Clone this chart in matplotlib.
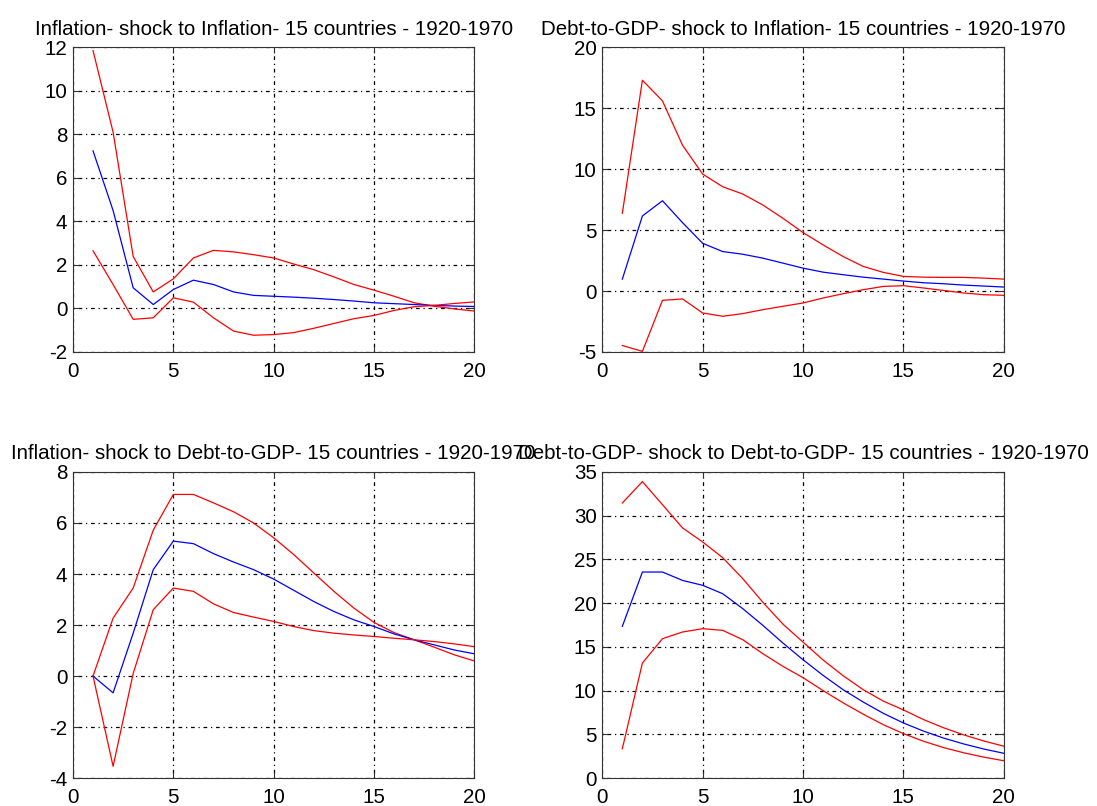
import matplotlib
matplotlib.use("Agg")
import numpy as np
import matplotlib.pyplot as plt

plt.rcParams['font.family'] = ['Liberation Sans', 'DejaVu Sans']
plt.rcParams['axes.unicode_minus'] = False

h = np.arange(1, 21)

# panel 1: Inflation - shock to Inflation
p1_up = [11.85, 8.1, 2.39, 0.76, 1.36, 2.32, 2.67, 2.6, 2.47, 2.32,
         2.04, 1.78, 1.45, 1.1, 0.84, 0.56, 0.26, 0.1, -0.02, -0.12]
p1_mid = [7.24, 4.5, 0.95, 0.18, 0.87, 1.3, 1.1, 0.76, 0.6, 0.56,
          0.52, 0.47, 0.41, 0.34, 0.26, 0.22, 0.18, 0.14, 0.11, 0.09]
p1_lo = [2.65, 1.1, -0.5, -0.43, 0.49, 0.29, -0.43, -1.04, -1.23, -1.2,
         -1.11, -0.91, -0.69, -0.47, -0.32, -0.09, 0.08, 0.14, 0.23, 0.3]

# panel 2: Debt-to-GDP - shock to Inflation
p2_up = [6.38, 17.3, 15.6, 11.96, 9.6, 8.56, 7.96, 7.06, 5.97, 4.8,
         3.79, 2.83, 2.02, 1.53, 1.2, 1.14, 1.12, 1.12, 1.06, 0.98]
p2_mid = [0.98, 6.16, 7.41, 5.61, 3.92, 3.24, 3.02, 2.7, 2.29, 1.88,
          1.55, 1.34, 1.14, 0.98, 0.82, 0.68, 0.6, 0.49, 0.41, 0.33]
p2_lo = [-4.47, -4.95, -0.76, -0.65, -1.8, -2.07, -1.85, -1.53, -1.25, -0.98,
         -0.57, -0.22, 0.11, 0.38, 0.44, 0.25, 0.05, -0.16, -0.3, -0.35]

# panel 3: Inflation - shock to Debt-to-GDP
p3_up = [0.0, 2.27, 3.45, 5.72, 7.12, 7.12, 6.79, 6.44, 6.0, 5.42,
         4.76, 4.04, 3.32, 2.66, 2.1, 1.7, 1.42, 1.13, 0.83, 0.59]
p3_mid = [0.0, -0.66, 1.68, 4.17, 5.29, 5.19, 4.8, 4.47, 4.17, 3.8,
          3.36, 2.92, 2.53, 2.2, 1.94, 1.65, 1.42, 1.22, 1.02, 0.87]
p3_lo = [0.0, -3.54, 0.1, 2.6, 3.45, 3.32, 2.83, 2.49, 2.31, 2.14,
         1.94, 1.78, 1.68, 1.61, 1.55, 1.48, 1.42, 1.35, 1.26, 1.15]

# panel 4: Debt-to-GDP - shock to Debt-to-GDP
p4_up = [31.45, 33.9, 31.26, 28.6, 27.0, 25.2, 22.8, 20.1, 17.6, 15.55,
         13.5, 11.7, 10.1, 8.8, 7.79, 6.69, 5.75, 4.94, 4.24, 3.64]
p4_mid = [17.35, 23.56, 23.56, 22.6, 22.04, 21.08, 19.37, 17.46, 15.44, 13.53,
          11.74, 10.1, 8.69, 7.4, 6.3, 5.37, 4.57, 3.9, 3.32, 2.83]
p4_lo = [3.35, 13.15, 15.94, 16.7, 17.08, 16.89, 15.82, 14.22, 12.77, 11.48,
         10.0, 8.6, 7.3, 6.1, 5.08, 4.21, 3.48, 2.89, 2.39, 1.98]

titles = ["Inflation- shock to Inflation- 15 countries - 1920-1970",
          "Debt-to-GDP- shock to Inflation- 15 countries - 1920-1970",
          "Inflation- shock to Debt-to-GDP- 15 countries - 1920-1970",
          "Debt-to-GDP- shock to Debt-to-GDP- 15 countries - 1920-1970"]
ylims = [(-2, 12), (-5, 20), (-4, 8), (0, 35)]
yticks = [np.arange(-2, 13, 2), np.arange(-5, 21, 5), np.arange(-4, 9, 2), np.arange(0, 36, 5)]
series = [(p1_up, p1_mid, p1_lo), (p2_up, p2_mid, p2_lo),
          (p3_up, p3_mid, p3_lo), (p4_up, p4_mid, p4_lo)]

fig = plt.figure(figsize=(10.97, 8.06), dpi=100)
rects = [[0.0665, 0.5633, 0.366, 0.378], [0.549, 0.5633, 0.366, 0.378],
         [0.0665, 0.0347, 0.366, 0.3797], [0.549, 0.0347, 0.366, 0.3797]]

for i in range(4):
    ax = fig.add_axes(rects[i])
    up, mid, lo = series[i]
    ax.plot(h, up, color='#ff0000', lw=0.9)
    ax.plot(h, mid, color='#0000ff', lw=0.9)
    ax.plot(h, lo, color='#ff0000', lw=0.9)
    ax.set_xlim(0, 20)
    ax.set_ylim(*ylims[i])
    ax.set_xticks(np.arange(0, 21, 5))
    ax.set_yticks(yticks[i])
    ax.grid(True, color='black', linestyle=(0, (1, 3, 3, 3)), linewidth=0.9)
    ax.tick_params(direction='in', top=True, right=True, labelsize=14.8, length=4,
                   colors='#333333', labelcolor='black')
    ax.tick_params(axis='x', pad=7)
    ax.tick_params(axis='y', pad=4)
    for s in ax.spines.values():
        s.set_color('#333333')
    ax.set_title(titles[i], fontsize=14.8, pad=9)

plt.savefig("out.png", dpi=100)
